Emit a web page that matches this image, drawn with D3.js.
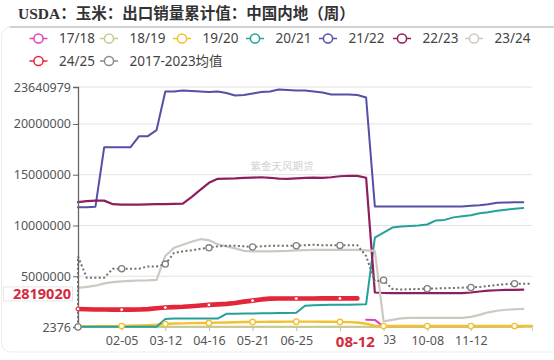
<!DOCTYPE html>
<html><head><meta charset="utf-8">
<script src="https://cdn.jsdelivr.net/npm/d3@7/dist/d3.min.js"></script>
<style>html,body{margin:0;padding:0;background:#fff;} svg{display:block;}</style>
</head><body><svg id="c" width="554" height="360"></svg>
<script>
// ---------- data ----------
const categories = ["01-01","01-08","01-15","01-22","01-29","02-05","02-12","02-19","02-26","03-05",
  "03-12","03-19","03-26","04-02","04-09","04-16","04-23","04-30","05-07","05-14",
  "05-21","05-28","06-04","06-11","06-18","06-25","07-02","07-09","07-16","07-23",
  "07-30","08-06","08-12","08-20","08-27","09-03","09-10","09-17","09-24","10-01",
  "10-08","10-15","10-22","10-29","11-05","11-12","11-19","11-26","12-03","12-10",
  "12-17","12-24","12-31"];
const xTickIndices = [5,10,15,20,25,30,35,40,45];
const yTickValues = [2376, 5000000, 10000000, 15000000, 20000000, 23640979];
const UNIT = 1e6; // series below are in million tonnes

const names  = ["17/18","18/19","19/20","20/21","21/22","22/23","23/24","24/25","2017-2023均值"];
const colors = ["#e040c0","#c8c890","#f2c12e","#26a09b","#5450a4","#8e1f5e","#cfc8c0","#e3263a","#8a8a8a"];

const s1718 = [null,null,null,null,null,null,null,null,null,null,null,null,null,null,null,null,null,null,null,null,
  null,null,null,null,null,null,null,null,null,null,null,null,null,0.72,0.70,0.04,0.04,0.04,0.04,0.04,
  0.04,0.04,0.04,0.04,0.04,0.04,0.05,0.06,0.07,0.08,0.08,0.08,null];
const s1819 = [0.02,0.02,0.02,0.02,0.02,0.02,0.02,0.02,0.02,0.02,0.02,0.02,0.02,0.02,0.02,0.02,0.02,0.02,0.02,0.02,
  0.02,0.02,0.02,0.02,0.02,0.02,0.02,0.02,0.02,0.02,0.02,0.02,0.02,0.02,0.02,0.02,0.02,0.02,0.02,0.02,
  0.02,0.02,0.02,0.02,0.02,0.02,0.02,0.02,0.02,0.02,0.02,0.02,null];
const s1920 = [0.05,0.06,0.07,0.08,0.09,0.10,0.12,0.15,0.18,0.22,0.30,0.34,0.36,0.38,0.40,0.40,0.43,0.45,0.47,0.49,
  0.50,0.51,0.52,0.52,0.53,0.53,0.53,0.53,0.52,0.52,0.50,0.48,0.44,0.32,0.14,0.10,0.10,0.10,0.10,0.10,
  0.10,0.10,0.10,0.10,0.10,0.10,0.10,0.10,0.10,0.10,0.10,0.10,0.10];
const s2021 = [0.02,0.02,0.02,0.02,0.02,0.02,0.02,0.02,0.02,0.02,0.80,0.83,0.83,0.83,0.83,0.83,0.83,1.30,1.30,1.32,
  1.33,1.35,1.36,1.37,1.38,1.40,2.10,2.15,2.18,2.20,2.20,2.20,2.22,2.25,8.80,9.30,9.80,9.90,9.95,10.00,
  10.10,10.50,10.55,10.80,10.90,11.00,11.20,11.30,11.45,11.55,11.65,11.72,null];
const s2122 = [11.80,11.80,11.85,17.70,17.70,17.70,17.70,18.80,18.80,19.40,23.20,23.20,23.30,23.25,23.20,23.15,23.20,23.05,22.80,22.85,
  23.00,23.15,23.20,23.40,23.35,23.30,23.30,23.20,23.10,22.90,22.90,22.90,22.85,22.60,11.88,11.88,11.88,11.88,11.88,11.88,
  11.88,11.88,11.88,11.88,11.88,11.95,12.00,12.10,12.25,12.27,12.28,12.30,null];
const s2223 = [12.30,12.40,12.45,12.45,12.10,12.05,12.05,12.05,12.08,12.10,12.10,12.12,12.15,12.80,13.50,14.20,14.60,14.62,14.65,14.70,
  14.72,14.75,14.70,14.62,14.60,14.65,14.70,14.72,14.70,14.75,14.85,14.90,14.88,14.70,3.40,3.35,3.33,3.33,3.33,3.33,
  3.33,3.33,3.33,3.33,3.33,3.40,3.50,3.58,3.62,3.65,3.66,3.68,null];
const s2324 = [3.85,3.95,4.07,4.30,4.42,4.50,4.55,4.58,4.60,4.65,7.00,7.80,8.10,8.40,8.65,8.55,8.15,7.95,7.75,7.50,
  7.45,7.45,7.45,7.48,7.50,7.55,7.58,7.60,7.60,7.60,7.60,7.60,7.60,7.55,7.50,0.55,0.70,0.85,0.90,0.90,
  0.90,0.90,0.90,0.90,0.90,1.00,1.20,1.45,1.60,1.70,1.75,1.78,null];
const s2425 = [1.78,1.75,1.73,1.72,1.71,1.71,1.71,1.72,1.76,1.85,1.92,1.96,1.99,2.05,2.12,2.18,2.23,2.28,2.36,2.50,
  2.60,2.72,2.80,2.81,2.81,2.81,2.81,2.81,2.82,2.82,2.82,2.82,2.819020,null,null,null,null,null,null,null,
  null,null,null,null,null,null,null,null,null,null,null,null,null];
const avgStart = 0.002376; // first point of the average series
const sAvg = [6.95,4.85,4.85,4.85,5.75,5.75,5.75,5.75,5.97,5.97,6.20,7.30,7.45,7.55,7.70,7.80,7.95,8.00,8.00,7.95,
  7.88,7.95,8.00,8.00,8.00,8.00,8.05,8.10,8.05,8.05,8.04,8.05,8.05,7.00,4.50,4.60,3.75,3.70,3.72,3.75,
  3.77,3.80,3.82,3.85,3.88,3.90,3.95,4.05,4.15,4.22,4.27,4.27,4.27];

const pointerIndex = 32;          // highlighted category (08-12)
const pointerValue = 2819020;     // highlighted value

// ---------- drawing ----------
const svg = d3.select("#c");
const W = 554, H = 360;
const x = d3.scalePoint().domain(categories).range([78, 532]);
const y = d3.scaleLinear().domain([2376, 23640979]).range([327, 87]);
const sans = "'Noto Sans','Noto Sans CJK SC',sans-serif";
const px = x(categories[pointerIndex]);

// card
svg.append("rect").attr("x",1.5).attr("y",27).attr("width",W+20).attr("height",325)
  .attr("rx",9).attr("fill","#fff").attr("stroke","#ececec");
svg.append("line").attr("x1",10).attr("x2",W).attr("y1",27).attr("y2",27)
  .attr("stroke","#c4c4c4").attr("stroke-width",1.5);

// title
svg.append("text").attr("x",18).attr("y",19)
  .attr("font-family","'Liberation Serif','Noto Sans CJK SC',serif").attr("font-weight","bold")
  .attr("font-size",15.5).attr("fill","#333")
  .text("USDA：玉米：出口销量累计值：中国内地（周）");

// legend
const legendPos = [[29.5,38.5],[100,38.5],[173,38.5],[246,38.5],[319,38.5],[393,38.5],[465,38.5],[29.5,61],[100,61]];
names.forEach((n,k)=>{
  const [lx,ly] = legendPos[k];
  const g = svg.append("g").attr("transform",`translate(${lx},${ly})`);
  g.append("line").attr("x1",0).attr("x2",18).attr("y1",0).attr("y2",0)
    .attr("stroke",colors[k]).attr("stroke-width",1.5);
  g.append("circle").attr("cx",9).attr("cy",0).attr("r",4.6)
    .attr("fill","#fff").attr("stroke",colors[k]).attr("stroke-width",1.5);
  g.append("text").attr("x",29.5).attr("y",4.6).attr("font-family",sans)
    .attr("font-size",13.5).attr("fill","#444").text(n);
});

// grid
svg.append("g").selectAll("line").data(yTickValues).join("line")
  .attr("x1",78).attr("x2",532).attr("y1",d=>y(d)).attr("y2",d=>y(d))
  .attr("stroke","#e2e2e2").attr("stroke-width",1);

// watermark
svg.append("text").attr("x",282).attr("y",170).attr("text-anchor","middle")
  .attr("font-family",sans).attr("font-size",10.5).attr("fill","#d2d2d2").text("紫金天风期货");

// x axis
svg.append("clipPath").attr("id","pclip").append("rect")
  .attr("x",px+28).attr("y",-10).attr("width",60).attr("height",40);
const xAxis = svg.append("g").attr("transform","translate(0,327)")
  .call(d3.axisBottom(x).tickValues(xTickIndices.map(i=>categories[i])).tickSize(4).tickPadding(5));
xAxis.select(".domain").attr("stroke","#cfcfcf");
xAxis.selectAll(".tick line").attr("stroke","#bbb");
xAxis.selectAll("text").attr("font-family",sans).attr("font-size",12.5).attr("fill","#555");
// labels hidden behind the pointer label
xAxis.selectAll(".tick").filter(d=>Math.abs(x(d)-px)<20).select("text").remove();
xAxis.selectAll(".tick").filter(d=>x(d)-px>=20 && x(d)-px<40).select("text")
  .attr("clip-path","url(#pclip)").attr("transform",`translate(0,0)`);
xAxis.selectAll(".tick").filter(d=>x(d)-px>=20 && x(d)-px<40)
  .each(function(d){ d3.select(this).select("text").attr("clip-path",null);
    const t = d3.select(this).select("text").remove();
    d3.select(this).append("g").attr("clip-path",`url(#pclip2)`)
      .append("text").attr("y",16.5).attr("text-anchor","middle").attr("font-family",sans)
      .attr("font-size",12.5).attr("fill","#555").text(d.slice(3)).attr("x",5); });
svg.append("clipPath").attr("id","pclip2").append("rect").attr("x",-20).attr("y",0).attr("width",40).attr("height",30);

// series lines
const series = [
  {v:s1718,k:0,w:2},{v:s1819,k:1,w:2},{v:s1920,k:2,w:2.4},{v:s2021,k:3,w:2},
  {v:s2122,k:4,w:2},{v:s2223,k:5,w:2.2},{v:s2324,k:6,w:2.2},{v:s2425,k:7,w:4.6}
];
const line = d3.line().defined(d=>d.v!=null).x(d=>x(categories[d.i])).y(d=>y(d.v*UNIT));
series.forEach(s=>{
  const data = s.v.map((v,i)=>({i,v}));
  svg.append("path").datum(data).attr("d",line).attr("fill","none")
    .attr("stroke",colors[s.k]).attr("stroke-width",s.w)
    .attr("stroke-linejoin","round").attr("stroke-linecap","round");
});
// average (dotted)
const avgData = [{i:0,v:avgStart}].concat(sAvg.map((v,i)=>({i,v})));
svg.append("path").datum(avgData).attr("d",line).attr("fill","none")
  .attr("stroke","#707070").attr("stroke-width",2).attr("stroke-dasharray","2,2.4");

// y axis
const yAxis = svg.append("g").attr("transform","translate(78,0)")
  .call(d3.axisLeft(y).tickValues(yTickValues).tickFormat(d3.format("d")).tickSize(5).tickPadding(2));
yAxis.select(".domain").attr("stroke","#666").attr("stroke-width",1.3);
yAxis.selectAll(".tick line").attr("stroke","#666");
yAxis.selectAll("text").attr("font-family",sans).attr("font-size",12.5).attr("fill","#555");

// symbols
function symbols(data, color, r, sw){
  const pts = data.filter((d,j)=>d.v!=null && d.i%5===0 && data.findIndex(e=>e.i===d.i)===j);
  svg.append("g").selectAll("circle").data(pts).join("circle")
    .attr("cx",d=>x(categories[d.i])).attr("cy",d=>y(d.v*UNIT)).attr("r",r)
    .attr("fill","#fff").attr("stroke",color).attr("stroke-width",sw);
}
symbols(s1920.map((v,i)=>({i,v})), colors[2], 2.7, 1.3);
symbols(s2425.map((v,i)=>({i,v})), colors[7], 1.9, 1);
symbols(avgData, "#808080", 3.1, 1.3);

// pointer labels
const gx = svg.append("g");
gx.append("rect").attr("x",px-31).attr("y",331).attr("width",58).attr("height",20).attr("fill","#fff");
gx.append("text").attr("x",px-2).attr("y",347).attr("text-anchor","middle")
  .attr("font-family",sans).attr("font-weight","bold").attr("font-size",15).attr("fill","#d42a3c")
  .text(categories[pointerIndex]);
const py = y(pointerValue);
const gy = svg.append("g");
gy.append("rect").attr("x",3.5).attr("y",py-11.5).attr("width",69).attr("height",14)
  .attr("fill","#fff").attr("stroke","#e6e6e6");
gy.append("text").attr("x",71).attr("y",py+1).attr("text-anchor","end")
  .attr("font-family",sans).attr("font-weight","bold").attr("font-size",14.5).attr("fill","#d42a3c")
  .text(d3.format("d")(pointerValue));
</script></body></html>
